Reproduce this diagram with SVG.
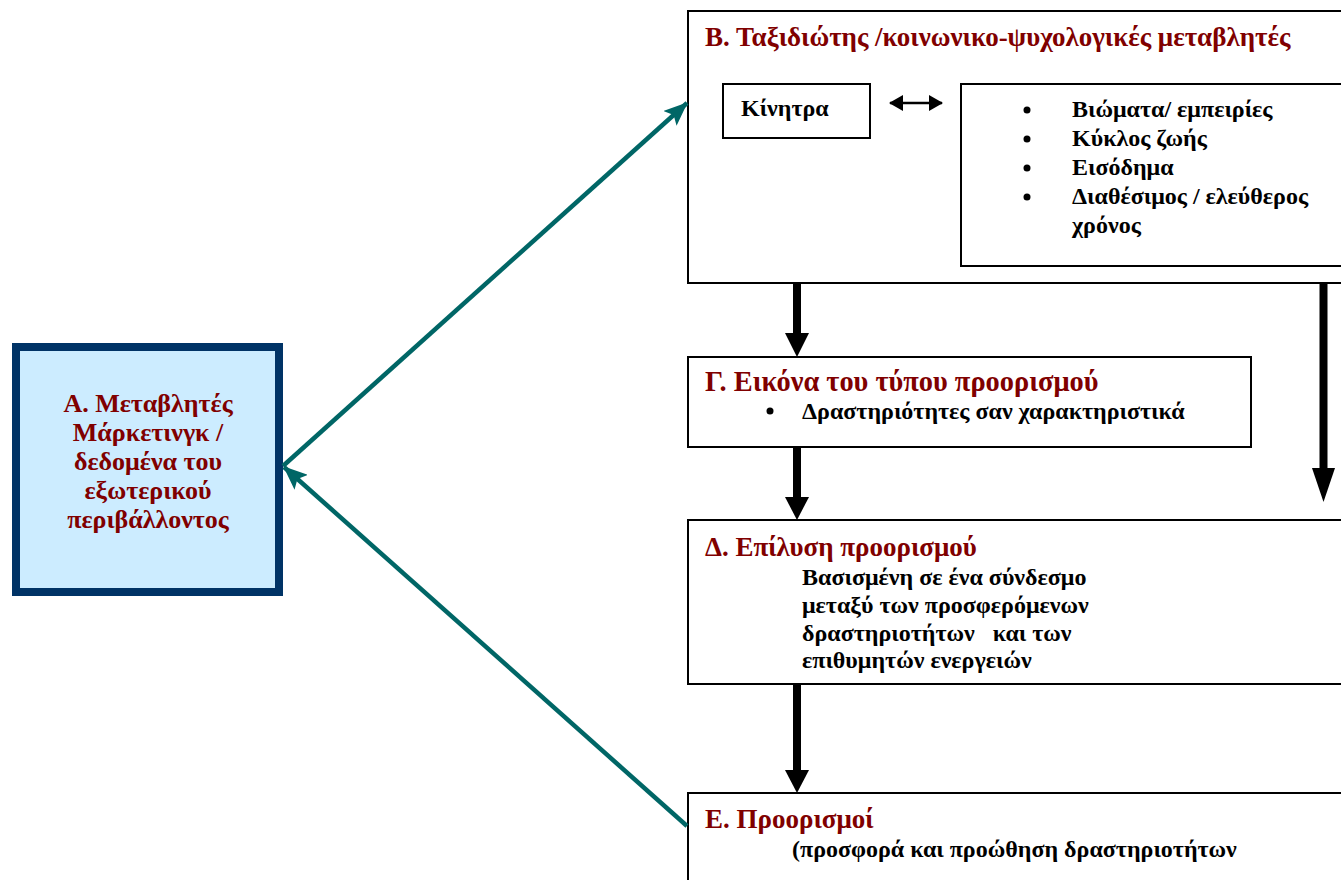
<svg xmlns="http://www.w3.org/2000/svg" width="1341" height="880" viewBox="0 0 1341 880">
<defs>
<style>
.box{fill:#ffffff;stroke:#000000;stroke-width:2}
.t{font-family:"Liberation Serif","Times New Roman",serif;font-weight:bold}
.title{fill:#800000;font-size:27px}
.body{fill:#000000;font-size:24px}
.atext{fill:#800000;font-size:26px;text-anchor:middle}
.teal{stroke:#006666;stroke-width:4.5;fill:none}
.shaft{stroke:#000000;stroke-width:8}
.head{fill:#000000}
</style>
<marker id="tealHead" markerUnits="userSpaceOnUse" markerWidth="24" markerHeight="20" viewBox="0 0 24 20" refX="23" refY="10" orient="auto">
<path d="M0,0 L24,10 L0,20 L5,10 Z" fill="#006666"/>
</marker>
<marker id="smallHead" markerUnits="userSpaceOnUse" markerWidth="14" markerHeight="16" viewBox="0 0 14 16" refX="13" refY="8" orient="auto-start-reverse">
<path d="M0,0 L14,8 L0,16 Z" fill="#000000"/>
</marker>
</defs>
<rect width="1341" height="880" fill="#ffffff"/>

<g id="nodeA">
<rect x="16" y="347" width="263" height="245" fill="#CCECFF" stroke="#003366" stroke-width="8"/>
<text class="t atext" x="148" y="412">Α. Μεταβλητές</text>
<text class="t atext" x="148" y="441">Μάρκετινγκ /</text>
<text class="t atext" x="148" y="470">δεδομένα του</text>
<text class="t atext" x="148" y="499">εξωτερικού</text>
<text class="t atext" x="148" y="528">περιβάλλοντος</text>
</g>

<g id="nodeB">
<rect class="box" x="688" y="11" width="670" height="272"/>
<text class="t title" x="705" y="46">Β. Ταξιδιώτης /κοινωνικο-ψυχολογικές μεταβλητές</text>
</g>

<g id="nodeB1">
<rect class="box" x="723" y="84" width="147" height="54"/>
<text class="t body" x="741" y="116">Κίνητρα</text>
</g>

<g id="nodeB2">
<rect class="box" x="961" y="84" width="400" height="182"/>
<circle cx="1027" cy="110" r="3.5" fill="#000"/>
<circle cx="1027" cy="139" r="3.5" fill="#000"/>
<circle cx="1027" cy="168" r="3.5" fill="#000"/>
<circle cx="1027" cy="197" r="3.5" fill="#000"/>
<text class="t body" x="1072" y="117">Βιώματα/ εμπειρίες</text>
<text class="t body" x="1072" y="146">Κύκλος ζωής</text>
<text class="t body" x="1072" y="175">Εισόδημα</text>
<text class="t body" x="1072" y="204">Διαθέσιμος / ελεύθερος</text>
<text class="t body" x="1072" y="233">χρόνος</text>
</g>

<g id="nodeG">
<rect class="box" x="688" y="357" width="563" height="90"/>
<text class="t title" x="705" y="391" style="font-size:28.4px">Γ. Εικόνα του τύπου προορισμού</text>
<circle cx="770" cy="411" r="3.5" fill="#000"/>
<text class="t body" x="802" y="419">Δραστηριότητες σαν χαρακτηριστικά</text>
</g>

<g id="nodeD">
<rect class="box" x="688" y="520" width="670" height="164"/>
<text class="t title" x="705" y="556">Δ. Επίλυση προορισμού</text>
<text class="t body" x="802" y="585">Βασισμένη σε ένα σύνδεσμο</text>
<text class="t body" x="802" y="613">μεταξύ των προσφερόμενων</text>
<text class="t body" x="802" y="641" xml:space="preserve" style="white-space:pre">δραστηριοτήτων   και των</text>
<text class="t body" x="802" y="668">επιθυμητών ενεργειών</text>
</g>

<g id="nodeE">
<rect class="box" x="688" y="793" width="670" height="120"/>
<text class="t title" x="705" y="828">Ε. Προορισμοί</text>
<text class="t body" x="792" y="857">(προσφορά και προώθηση δραστηριοτήτων</text>
</g>

<g id="connectors">
<line class="teal" x1="283" y1="466" x2="687" y2="103" marker-end="url(#tealHead)"/>
<line class="teal" x1="687" y1="826" x2="284" y2="467" marker-end="url(#tealHead)"/>
<line x1="890" y1="103" x2="942" y2="103" stroke="#000" stroke-width="2.5" marker-start="url(#smallHead)" marker-end="url(#smallHead)"/>
<line class="shaft" x1="797" y1="283" x2="797" y2="334"/>
<polygon class="head" points="785,333 809,333 797,357"/>
<line class="shaft" x1="797" y1="447" x2="797" y2="498"/>
<polygon class="head" points="785,497 809,497 797,520"/>
<line class="shaft" x1="797" y1="684" x2="797" y2="771"/>
<polygon class="head" points="785,770 809,770 797,793"/>
<line class="shaft" x1="1323.5" y1="283" x2="1323.5" y2="469"/>
<polygon class="head" points="1312,468 1335,468 1323.5,502"/>
</g>
</svg>
